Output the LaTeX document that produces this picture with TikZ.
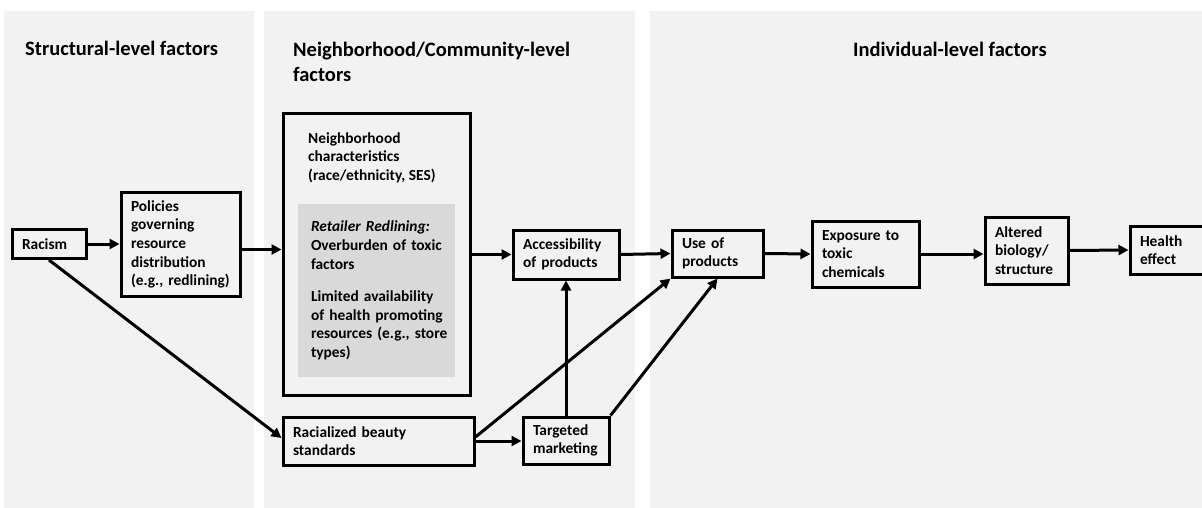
\documentclass[tikz,border=0pt]{standalone}
\usepackage{fontspec}
\setmainfont{Carlito}
\usetikzlibrary{arrows.meta}
\definecolor{panelgray}{HTML}{F2F2F2}
\definecolor{innergray}{HTML}{D9D9D9}
\newcommand{\mybody}{\fontsize{15.4}{18.6}\selectfont\bfseries}
\newcommand{\mytitle}{\fontsize{20.5}{25.5}\selectfont\bfseries}
\hyphenpenalty=10000
\exhyphenpenalty=10000
\begin{document}
\begin{tikzpicture}[x=1pt,y=-1pt,
  box/.style={draw=black, line width=3pt, inner xsep=10pt, inner ysep=0pt, align=left, font=\mybody},
  arr/.style={line width=3pt, -{Triangle[length=10pt,width=10pt]}},
  ttl/.style={font=\mytitle, anchor=base west, inner sep=0pt},
  plain/.style={font=\mybody, anchor=base west, inner sep=0pt}
]
\useasboundingbox (0,0) rectangle (1202,508);
\clip (0,0) rectangle (1202,508);
% panels
\fill[panelgray] (4,11) rectangle (254,508);
\fill[panelgray] (264,11) rectangle (635,508);
\fill[panelgray] (650,11) rectangle (1202,508);
% titles
\node[ttl] (t1) at (25,56) {Structural-level factors};
\node[ttl] (t2) at (293,56.5) {\vtop{\hbox{Neighborhood/Community-level}\hbox{factors}}};
\node[ttl] (t3) at (853,57) {Individual-level factors};
% boxes
\node[box, minimum width=74pt, minimum height=29pt, text width=54pt] (racism) at (49,244) {Racism};
\node[box, minimum width=119pt, minimum height=104pt, text width=99pt] (policies) at (180.5,244.5) {Policies\\governing\\resource\\distribution\\(e.g.,~redlining)};
\node[box, minimum width=187pt, minimum height=281pt] (nbox) at (376.5,254.5) {};
\node[plain] (nbtext) at ([xshift=26.5pt,yshift=-30.5pt]nbox.north west) {\vtop{\hbox{Neighborhood}\hbox{characteristics}\hbox{(race/ethnicity, SES)}}};
\node[fill=innergray, minimum width=157pt, minimum height=173pt, inner xsep=13pt, inner ysep=0pt, text width=131pt, align=left, font=\mybody] (redl) at (376.5,290.5) {\textit{Retailer~Redlining:}\\Overburden~of~toxic\\factors\\[14pt]Limited~availability\\of~health~promoting\\resources~(e.g.,~store\\types)};
\node[box, minimum width=106pt, minimum height=49pt, text width=86pt] (acc) at (566,254.5) {Accessibility\\of~products};
\node[box, minimum width=191pt, minimum height=48pt, text width=171pt] (racial) at (378.5,441) {Racialized beauty\\standards};
\node[box, minimum width=86pt, minimum height=47pt, text width=66pt] (targ) at (566,440.5) {Targeted\\marketing};
\node[box, minimum width=91pt, minimum height=47pt, text width=71pt] (use) at (717.5,253.5) {Use~of\\products};
\node[box, minimum width=107pt, minimum height=66pt, text width=87pt] (expo) at (865.5,254) {Exposure~to\\toxic\\chemicals};
\node[box, minimum width=83pt, minimum height=67pt, text width=63pt] (alt) at (1026.5,250.5) {Altered\\biology/\\structure};
\node[box, minimum width=85pt, minimum height=48pt, text width=65pt] (health) at (1172.5,250) {Health\\effect};
% connectors
\draw[arr] (racism.east) -- (racism.east -| policies.west);
\draw[arr] ([yshift=-5pt]policies.east) -- ([yshift=-5pt]policies.east -| nbox.west);
\draw[arr] (nbox.east) -- (acc.west);
\draw[arr] (racism.south) -- ([yshift=3pt]racial.west);
\draw[arr] (racial.east) -- (racial.east -| targ.west);
\draw[arr] (targ.north) -- (acc.south);
\draw[arr] ([yshift=4pt]racial.east) -- (use.south west);
\draw[arr] (targ.north east) -- (use.south);
\draw[arr] (acc.east) -- (use.west);
\draw[arr] (use.east) -- (expo.west);
\draw[arr] (expo.east) -- (expo.east -| alt.west);
\draw[arr] (alt.east) -- (health.west);
\end{tikzpicture}
\end{document}
